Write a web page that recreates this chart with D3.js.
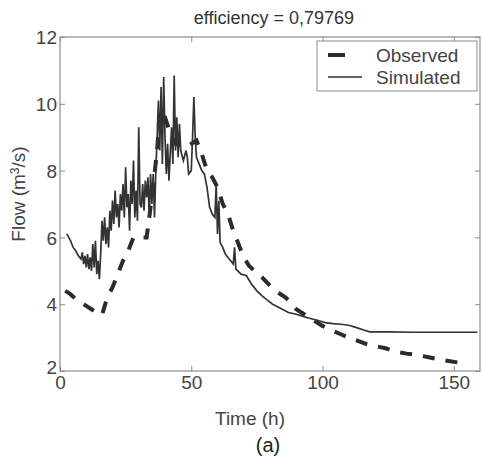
<!DOCTYPE html>
<html>
<head>
<meta charset="utf-8">
<script src="https://cdn.jsdelivr.net/npm/d3@7"></script>
<style>
  body { margin: 0; background: #fff; }
  svg text { font-family: "Liberation Sans", Arial, sans-serif; }
</style>
</head>
<body>
<div id="chart"></div>
<script>
// observed flow (dashed) - time (h), flow (m3/s)
var obsTime = [2, 4, 6, 8, 10, 12, 14, 16, 18, 20, 22, 24, 26, 28, 30, 33, 35, 37, 38, 40, 42, 44, 46, 48, 50, 52, 54, 56, 58, 60, 62, 64, 66, 68, 70, 72, 74, 77, 80, 83, 86, 90, 93, 96, 100, 104, 107, 110, 113, 117, 120, 124, 128, 132, 136, 140, 144, 148, 152, 155];
var obsFlow = [4.4, 4.3, 4.15, 4.05, 3.95, 3.85, 3.75, 3.68, 4.2, 4.5, 4.9, 5.3, 5.6, 6.0, 6.0, 6.0, 7.2, 8.6, 9.8, 9.6, 9.1, 8.8, 8.75, 8.7, 8.8, 8.9, 8.5, 8.0, 7.8, 7.5, 7.0, 6.7, 6.2, 5.8, 5.4, 5.15, 5.0, 4.8, 4.55, 4.35, 4.2, 3.85, 3.7, 3.55, 3.35, 3.2, 3.1, 3.0, 2.92, 2.8, 2.75, 2.68, 2.58, 2.52, 2.48, 2.42, 2.35, 2.3, 2.25, 2.23];

// simulated flow (solid)
var simTime = [2.5, 3, 4, 5, 6, 7, 8, 8.5, 9, 9.5, 10, 10.5, 11, 11.5, 12, 12.5, 13, 13.5, 14, 14.5, 15, 15.5, 16, 16.5, 17, 17.5, 18, 18.5, 19, 19.5, 20, 20.5, 21, 21.5, 22, 22.5, 23, 23.5, 24, 24.5, 25, 25.5, 26, 26.5, 27, 27.5, 28, 28.5, 29, 29.5, 30, 30.5, 31, 31.5, 32, 32.5, 33, 33.5, 34, 34.5, 35, 35.5, 36, 36.5, 37, 37.5, 38, 38.5, 39, 39.5, 40, 40.5, 41, 41.5, 42, 42.5, 43, 43.5, 44, 44.5, 45, 45.5, 46, 47, 48, 48.5, 49, 50, 50.5, 51, 51.5, 52, 53, 54, 55, 56, 57, 58, 59, 59.5, 60, 60.5, 61, 62, 63, 64, 65, 66, 66.5, 67, 69, 71, 73, 75, 77, 79, 81, 84, 87, 90, 92, 95, 98, 101, 104, 107, 110, 113, 116, 118, 125, 135, 145, 159];
var simFlow = [6.1, 6.05, 5.9, 5.7, 5.6, 5.45, 5.35, 5.55, 5.2, 5.45, 5.1, 5.5, 5.05, 5.4, 5.0, 5.8, 5.1, 5.9, 4.9, 5.3, 4.75, 5.5, 6.5, 5.9, 6.6, 5.8, 6.3, 5.7, 6.8, 6.2, 7.1, 6.4, 7.4, 6.6, 7.0, 6.3, 7.3, 6.8, 7.6, 6.6, 8.1, 6.9, 7.3, 6.2, 7.7, 7.0, 8.3, 6.6, 7.4, 6.5, 9.3, 7.0, 6.9, 7.6, 6.8, 7.7, 7.2, 7.8, 6.6, 7.9, 7.0, 7.9, 6.6, 8.0, 9.0, 10.1, 8.6, 10.5, 8.2, 10.8, 9.0, 7.9, 8.8, 7.7, 8.5, 9.3, 8.2, 10.85, 8.6, 9.6, 8.4, 9.4, 8.6, 8.3, 8.6, 8.4, 7.9, 8.0, 9.0, 10.2, 9.0, 8.4, 8.2, 8.0, 7.9, 7.5, 6.9, 6.7, 6.6, 7.6, 6.1, 7.1, 5.85, 5.7, 5.5, 5.4, 5.3, 5.2, 5.7, 5.05, 4.9, 4.85, 4.6, 4.4, 4.25, 4.12, 4.0, 3.88, 3.75, 3.7, 3.65, 3.58, 3.52, 3.45, 3.42, 3.4, 3.37, 3.3, 3.22, 3.17, 3.17, 3.16, 3.16, 3.16];

var xTicks = [0, 50, 100, 150];
var yTicks = [2, 4, 6, 8, 10, 12];
var seriesNames = ["Observed", "Simulated"];

var width = 482, height = 466;
var margin = { top: 37, right: 2, bottom: 95, left: 60 };
var w = width - margin.left - margin.right,
    h = height - margin.top - margin.bottom;

var svg = d3.select("#chart")
    .append("svg")
    .attr("width", width)
    .attr("height", height);

var g = svg.append("g")
    .attr("transform", "translate(" + margin.left + "," + margin.top + ")");

var x = d3.scaleLinear().domain([0, 160]).range([0, w]);
var y = d3.scaleLinear().domain([2, 12]).range([h, 0]);

var axisColor = "#8c8c8c", textColor = "#444";

// axes with inward ticks on all four sides (matlab style)
function styleAxis(sel) {
    sel.select(".domain").remove();
    sel.selectAll(".tick line").attr("stroke", axisColor);
    sel.selectAll(".tick text")
        .attr("fill", textColor)
        .style("font-size", "19px");
}

g.append("g")
    .attr("transform", "translate(0," + h + ")")
    .call(d3.axisBottom(x).tickValues(xTicks).tickSize(-5).tickPadding(3))
    .call(styleAxis)
    .selectAll(".tick text").attr("dy", "0.8em");

g.append("g")
    .call(d3.axisLeft(y).tickValues(yTicks).tickSize(-5).tickPadding(3))
    .call(styleAxis)
    .selectAll(".tick text")
    .attr("dy", function(d) { return d == 2 ? "0.15em" : "0.35em"; });

g.append("g")
    .call(d3.axisTop(x).tickValues(xTicks).tickSize(-5).tickFormat(""))
    .call(styleAxis);

g.append("g")
    .attr("transform", "translate(" + w + ",0)")
    .call(d3.axisRight(y).tickValues(yTicks).tickSize(-5).tickFormat(""))
    .call(styleAxis);

// box
g.append("rect")
    .attr("width", w)
    .attr("height", h)
    .attr("fill", "none")
    .attr("stroke", axisColor)
    .attr("stroke-width", 1.2);

var obsData = obsTime.map(function(t, i) { return { t: t, v: obsFlow[i] }; });
var simData = simTime.map(function(t, i) { return { t: t, v: simFlow[i] }; });

var line = d3.line()
    .x(function(d) { return x(d.t); })
    .y(function(d) { return y(d.v); });

g.append("path")
    .datum(obsData)
    .attr("fill", "none")
    .attr("stroke", "#2b2b2b")
    .attr("stroke-width", 4)
    .attr("stroke-dasharray", "12,11")
    .attr("d", line);

g.append("path")
    .datum(simData)
    .attr("fill", "none")
    .attr("stroke", "#333")
    .attr("stroke-width", 1.7)
    .attr("d", line);

// legend
var lg = svg.append("g").attr("transform", "translate(317,41)");
lg.append("rect")
    .attr("width", 160)
    .attr("height", 50)
    .attr("fill", "#fff")
    .attr("stroke", axisColor);

lg.append("line")
    .attr("x1", 11).attr("x2", 28).attr("y1", 14).attr("y2", 14)
    .attr("stroke", "#2b2b2b").attr("stroke-width", 4);
lg.append("line")
    .attr("x1", 11).attr("x2", 45).attr("y1", 36).attr("y2", 36)
    .attr("stroke", "#333").attr("stroke-width", 1.6);

lg.selectAll("text.leg")
    .data(seriesNames)
    .enter()
    .append("text")
    .attr("class", "leg")
    .attr("x", 59)
    .attr("y", function(d, i) { return 21 + i * 22; })
    .attr("fill", textColor)
    .style("font-size", "19px")
    .text(function(d) { return d; });

// title and labels
svg.append("text")
    .attr("x", 274).attr("y", 24)
    .attr("text-anchor", "middle")
    .attr("fill", "#333")
    .style("font-size", "18px")
    .text("efficiency = 0,79769");

svg.append("text")
    .attr("x", 250).attr("y", 425)
    .attr("text-anchor", "middle")
    .attr("fill", textColor)
    .style("font-size", "19px")
    .text("Time (h)");

var ylab = svg.append("text")
    .attr("transform", "translate(25,194) rotate(-90)")
    .attr("text-anchor", "middle")
    .attr("fill", textColor)
    .style("font-size", "19px");
ylab.append("tspan").text("Flow (m");
ylab.append("tspan")
    .attr("dy", "-0.5em")
    .style("font-size", "12px")
    .text("3");
ylab.append("tspan")
    .attr("dy", "0.32em")
    .text("/s)");

svg.append("text")
    .attr("x", 268).attr("y", 452)
    .attr("text-anchor", "middle")
    .attr("fill", "#222")
    .style("font-size", "20px")
    .text("(a)");
</script>
</body>
</html>
